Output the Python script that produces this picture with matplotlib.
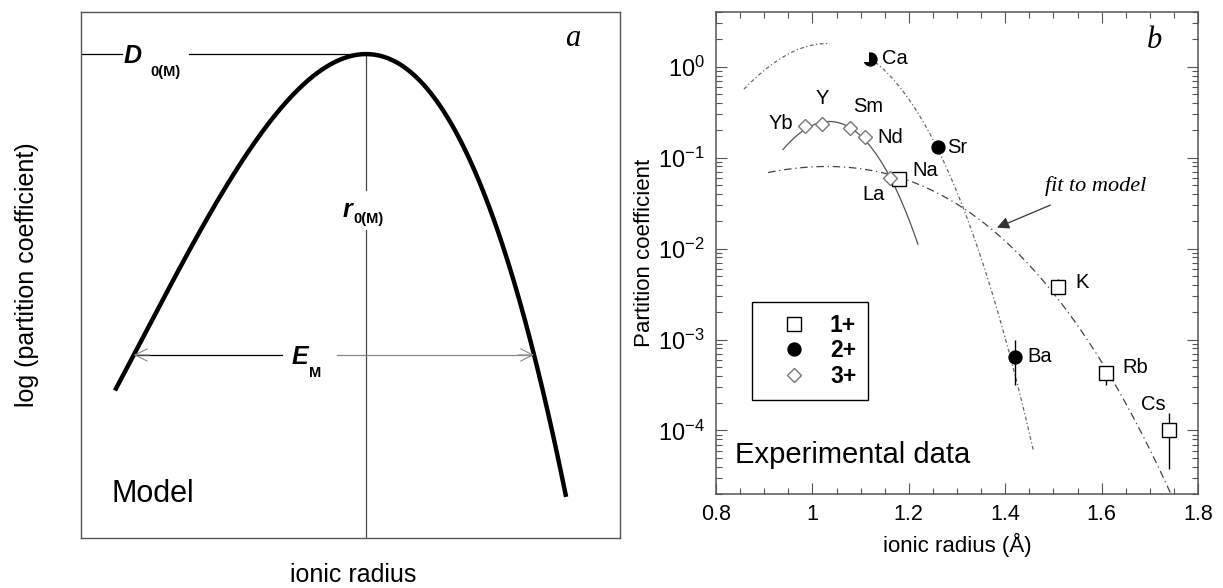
import numpy as np
import matplotlib
matplotlib.use("Agg")
import matplotlib.pyplot as plt
from matplotlib.lines import Line2D
from matplotlib.patches import Rectangle
from matplotlib.ticker import LogLocator, MultipleLocator, NullFormatter

plt.rcParams['font.family'] = ['Liberation Sans', 'DejaVu Sans']
plt.rcParams['mathtext.fontset'] = 'custom'
plt.rcParams['mathtext.rm'] = 'Liberation Sans'
plt.rcParams['mathtext.it'] = 'Liberation Sans:italic'
plt.rcParams['mathtext.bf'] = 'Liberation Sans:bold'

# --- experimental data (panel b) ---
ions_1 = ['Na', 'K', 'Rb', 'Cs']
r_1 = [1.18, 1.51, 1.61, 1.74]
D_1 = [0.058, 3.8e-3, 4.3e-4, 1.0e-4]
D_1_lo = [0.058, 3.2e-3, 3.2e-4, 3.8e-5]
D_1_hi = [0.058, 4.6e-3, 5.0e-4, 1.55e-4]

ions_2 = ['Ca', 'Sr', 'Ba']
r_2 = [1.12, 1.26, 1.42]
D_2 = [1.22, 0.132, 6.5e-4]
D_2_lo = [1.22, 0.132, 3.2e-4]
D_2_hi = [1.22, 0.132, 1.0e-3]

ions_3 = ['Yb', 'Y', 'Sm', 'Nd', 'La']
r_3 = [0.985, 1.019, 1.079, 1.109, 1.16]
D_3 = [0.225, 0.237, 0.214, 0.17, 0.06]

# lattice strain fits: D0, r0 (A), E (GPa), radius range drawn
fit_1 = [0.08, 1.03, 38, 0.908, 1.76]
fit_2 = [1.8, 1.03, 150, 0.858, 1.458]
fit_3 = [0.25, 1.035, 279, 0.939, 1.219]

# schematic model (panel a), log10 D0, r0, E, radius range
model_a = [0.92, 0.829, 46, 0.363, 1.200]

T = 1600.0


def log_D(r, logD0, r0, E):
    k = 4 * np.pi * E * 1e9 * 6.02214e23 * 1e-30 / (8.314 * T)
    return logD0 - k * (r0 / 2 * (r - r0) ** 2 + (r - r0) ** 3 / 3) / np.log(10)


fig = plt.figure(figsize=(12.23, 5.88), dpi=100)

# ================= panel a =================
axa = fig.add_axes([81 / 1223, 50 / 588, 539 / 1223, 526 / 588])
axa.set_xlim(0.3, 1.3)
axa.set_ylim(0, 1)
axa.set_xticks([])
axa.set_yticks([])
for s in axa.spines.values():
    s.set_color('#555555')
    s.set_linewidth(1.0)

logD0a, r0a, Ea, ra0, ra1 = model_a
ra = np.linspace(ra0, ra1, 400)
ya = log_D(ra, logD0a, r0a, Ea)
axa.plot(ra, ya, color='black', lw=3.2, solid_capstyle='butt', zorder=3)

# D0 line with gap for label
axa.plot([0.3, 0.376], [logD0a, logD0a], color='black', lw=0.9)
axa.plot([0.500, r0a], [logD0a, logD0a], color='black', lw=0.9)
axa.text(0.3955, 0.916, 'D', fontsize=18, fontweight='bold', style='italic',
         ha='center', va='center')
axa.text(0.4568, 0.886, '0(M)', fontsize=10.5, fontweight='bold',
         ha='center', va='center')

# r0 vertical line with gap
axa.plot([r0a, r0a], [logD0a, 0.6616], color='#444444', lw=0.9)
axa.plot([r0a, r0a], [0.5856, 0], color='#444444', lw=0.9)
axa.text(0.7935, 0.6236, 'r', fontsize=18, fontweight='bold', style='italic',
         ha='center', va='center')
axa.text(0.8334, 0.6074, '0(M)', fontsize=10.5, fontweight='bold',
         ha='center', va='center')

# E_M width arrow between the two branches
level = 0.348
ipk = np.argmax(ya)
xl = np.interp(level, ya[:ipk], ra[:ipk])
xr = np.interp(level, ya[ipk:][::-1], ra[ipk:][::-1])
axa.plot([xl, 0.6729], [level, level], color='black', lw=0.9)
axa.plot([0.775, xr], [level, level], color='#888888', lw=0.9)
axa.annotate('', xy=(xl, level), xytext=(xl + 0.03, level),
             arrowprops=dict(arrowstyle='->', color='#888888', lw=0.8,
                             mutation_scale=22, shrinkA=0, shrinkB=0))
axa.annotate('', xy=(xr, level), xytext=(xr - 0.03, level),
             arrowprops=dict(arrowstyle='->', color='#888888', lw=0.8,
                             mutation_scale=22, shrinkA=0, shrinkB=0))
axa.text(0.7054, 0.3432, 'E', fontsize=18, fontweight='bold', style='italic',
         ha='center', va='center')
axa.text(0.7351, 0.3137, 'M', fontsize=10.5, fontweight='bold',
         ha='center', va='center')

axa.text(0.057, 0.068, 'Model', transform=axa.transAxes, fontsize=22,
         ha='left', va='baseline')
axa.text(0.913, 0.949, 'a', transform=axa.transAxes, fontsize=22,
         family='Liberation Serif', style='italic', ha='center', va='center')
fig.text(27 / 1223, 1 - 275 / 588, 'log (partition coefficient)', rotation=90,
         fontsize=18, ha='center', va='center')
fig.text(353 / 1223, 1 - 575 / 588, 'ionic radius', fontsize=18,
         ha='center', va='center')

# ================= panel b =================
axb = fig.add_axes([716 / 1223, 94 / 588, 482 / 1223, 482 / 588])
axb.set_yscale('log')
axb.set_xlim(0.8, 1.8)
axb.set_ylim(2e-5, 4)

# model curves
for fit, ls, col in [(fit_3, '-', '#555555'),
                     (fit_1, (0, (6, 3, 1, 3)), '#444444'),
                     (fit_2, (0, (3, 2, 1, 2)), '#666666')]:
    D0, r0, E, rmin, rmax = fit
    rr = np.linspace(rmin, rmax, 300)
    axb.plot(rr, 10 ** log_D(rr, np.log10(D0), r0, E), ls=ls, color=col,
             lw=0.9, zorder=2)

# error bars
axb.errorbar(r_1, D_1, yerr=[np.array(D_1) - np.array(D_1_lo),
                             np.array(D_1_hi) - np.array(D_1)],
             fmt='none', ecolor='black', elinewidth=1.0, capsize=0, zorder=2)
axb.errorbar(r_2, D_2, yerr=[np.array(D_2) - np.array(D_2_lo),
                             np.array(D_2_hi) - np.array(D_2)],
             fmt='none', ecolor='black', elinewidth=1.0, capsize=0, zorder=2)

# markers
axb.plot(r_1, D_1, 's', ms=9.5, mfc='white', mec='black', mew=1.0, zorder=3)
axb.plot(r_2, D_2, 'o', ms=9.3, mfc='black', mec='black', zorder=3)
axb.plot(r_3, D_3, 'D', ms=7, mfc='white', mec='#777777', mew=1.0, zorder=3)

# white box that partly hides the Ca symbol and the 2+ curve top
axb.add_patch(Rectangle((1.037, 1.135), 1.1166 - 1.037, 2.5 - 1.135,
                        facecolor='white', edgecolor='none', zorder=4))

label_pos = {'Ca': (1.144, 1.225, 'left'), 'Sr': (1.279, 0.128, 'left'),
             'Na': (1.2066, 0.0714, 'left'), 'La': (1.103, 0.0398, 'left'),
             'Nd': (1.134, 0.165, 'left'), 'Sm': (1.115, 0.362, 'center'),
             'Y': (1.02, 0.444, 'center'), 'Yb': (0.96, 0.235, 'right'),
             'K': (1.545, 4.26e-3, 'left'), 'Ba': (1.445, 6.5e-4, 'left'),
             'Rb': (1.644, 4.9e-4, 'left'), 'Cs': (1.7066, 1.91e-4, 'center')}
for name in ions_1 + ions_2 + ions_3:
    x, y, ha = label_pos[name]
    axb.text(x, y, name, fontsize=14.5, ha=ha, va='center', zorder=5)

axb.annotate('fit to model', xy=(1.383, 0.0170), xytext=(1.483, 0.0489),
             fontsize=16, family='Liberation Serif', style='italic',
             ha='left', va='center',
             arrowprops=dict(arrowstyle='-|>', color='#333333', lw=0.9,
                             mutation_scale=18, shrinkA=12, shrinkB=0))

axb.text(0.91, 0.94, 'b', transform=axb.transAxes, fontsize=22,
         family='Liberation Serif', style='italic', ha='center', va='center')
axb.text(0.039, 0.064, 'Experimental data', transform=axb.transAxes,
         fontsize=21, ha='left', va='baseline')

handles = [Line2D([], [], ls='none', marker='s', ms=9.5, mfc='white', mec='black'),
           Line2D([], [], ls='none', marker='o', ms=9.3, mfc='black', mec='black'),
           Line2D([], [], ls='none', marker='D', ms=7, mfc='white', mec='#777777')]
leg = axb.legend(handles, ['1+', '2+', '3+'], loc='upper left',
                 bbox_to_anchor=(0.0747, 0.398), frameon=True, fancybox=False,
                 edgecolor='black', framealpha=1, borderpad=0.5,
                 handlelength=2.7, handletextpad=0.2, labelspacing=0.12,
                 borderaxespad=0, prop={'weight': 'bold', 'size': 16.5})
leg.get_frame().set_linewidth(1.0)

axb.xaxis.set_major_locator(MultipleLocator(0.2))
axb.xaxis.set_minor_locator(MultipleLocator(0.05))
axb.xaxis.set_major_formatter(plt.FuncFormatter(lambda v, p: '%g' % round(v, 2)))
axb.yaxis.set_major_locator(LogLocator(base=10, numticks=20))
axb.yaxis.set_minor_locator(LogLocator(base=10, subs=np.arange(2, 10), numticks=20))
axb.yaxis.set_minor_formatter(NullFormatter())
axb.tick_params(which='both', direction='in', top=True, right=True,
                color='#555555', width=0.8)
axb.tick_params(which='major', length=8)
axb.tick_params(which='minor', length=4)
axb.tick_params(axis='x', pad=7, labelsize=15.5)
axb.tick_params(axis='y', pad=8, labelsize=17)
for s in axb.spines.values():
    s.set_color('#555555')
    s.set_linewidth(1.1)

axb.set_xlabel('ionic radius (Å)', fontsize=16, labelpad=6)
fig.text(644 / 1223, 1 - 253 / 588, 'Partition coefficient', rotation=90,
         fontsize=16, ha='center', va='center')

fig.savefig('out.png', dpi=100)
